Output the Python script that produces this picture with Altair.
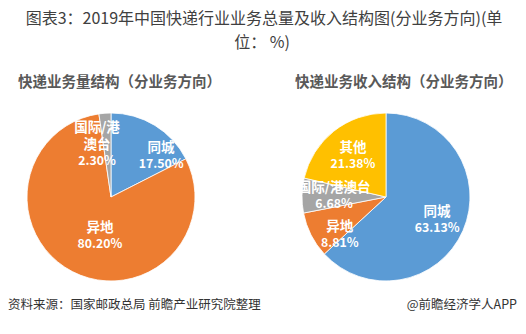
import altair as alt
import pandas as pd

FONT = "Noto Sans CJK SC"

# ---- data ----
title_lines = ["图表3：2019年中国快递行业业务总量及收入结构图(分业务方向)(单", "位：  %)"]
subtitle_volume = "快递业务量结构（分业务方向）"
subtitle_revenue = "快递业务收入结构（分业务方向）"
source_text = "资料来源：国家邮政总局 前瞻产业研究院整理"
brand_text = "@前瞻经济学人APP"

volume_categories = ["同城", "异地", "国际/港澳台"]
volume_labels = ["同城", "异地", "国际/港\n澳台"]
volume_values = [17.50, 80.20, 2.30]

revenue_categories = ["同城", "异地", "国际/港澳台", "其他"]
revenue_labels = ["同城", "异地", "国际/港澳台", "其他"]
revenue_values = [63.13, 8.81, 6.68, 21.38]

color_domain = ["同城", "异地", "国际/港澳台", "其他"]
color_range = ["#5B9BD5", "#ED7D31", "#A5A5A5", "#FFC000"]

rows = []
for i, (c, l, v) in enumerate(zip(volume_categories, volume_labels, volume_values)):
    rows.append({"pie": "volume", "category": c, "label": l, "value": v, "idx": i})
for i, (c, l, v) in enumerate(zip(revenue_categories, revenue_labels, revenue_values)):
    rows.append({"pie": "revenue", "category": c, "label": l, "value": v, "idx": i})
df = pd.DataFrame(rows)

label_lookup = {("volume", c): l for c, l in zip(volume_categories, volume_labels)}
label_lookup.update({("revenue", c): l for c, l in zip(revenue_categories, revenue_labels)})

# ---- layout / style ----
pie_pos = {"volume": (111, 197), "revenue": (386, 197)}
R = 84
LINE_H = 17
# label placement: (radius, thetaOffset in radians) per pie and category
label_style = {
    "volume": {"同城": (65, 0.33), "异地": (41, -0.205), "国际/港澳台": (46, -0.237)},
    "revenue": {"同城": (56, 0.01), "异地": (60, -0.22), "国际/港澳台": (52, 0.01), "其他": (53, 0.0)},
}

theta_scale = alt.Scale(domain=[0, 100])
color_scale = alt.Scale(domain=color_domain, range=color_range)

base = alt.Chart(df).transform_window(
    cum="sum(value)", sort=[alt.SortField("idx")], groupby=["pie"], frame=[None, 0]
).transform_calculate(
    start="datum.cum - datum.value",
    mid="datum.cum - datum.value / 2",
    pct="format(datum.value, '.2f') + '%'",
)

layers = []
for pie, (cx, cy) in pie_pos.items():
    arc = base.transform_filter(alt.datum.pie == pie).mark_arc(
        outerRadius=R, stroke="white", strokeWidth=0.8
    ).encode(
        theta=alt.Theta("start:Q", scale=theta_scale),
        theta2="cum:Q",
        color=alt.Color("category:N", scale=color_scale, legend=None),
        x=alt.value(cx),
        y=alt.value(cy),
    )
    layers.append(arc)
    for cat, (rad, toff) in label_style[pie].items():
        n_lines = label_lookup[(pie, cat)].count("\n") + 1
        sub = base.transform_filter(alt.datum.pie == pie).transform_filter(alt.datum.category == cat)
        name = sub.mark_text(
            radius=rad, thetaOffset=toff, font=FONT, fontSize=13.5, fontWeight="bold",
            color="white", baseline="bottom", lineBreak="\n", lineHeight=LINE_H,
            dy=-1 - (n_lines - 1) * LINE_H,
        ).encode(
            theta=alt.Theta("mid:Q", scale=theta_scale, stack=None),
            text="label:N",
            x=alt.value(cx),
            y=alt.value(cy),
        )
        pct = sub.mark_text(
            radius=rad, thetaOffset=toff, font=FONT, fontSize=12.3, fontWeight="bold",
            color="white", baseline="top", dy=2,
        ).encode(
            theta=alt.Theta("mid:Q", scale=theta_scale, stack=None),
            text="pct:N",
            x=alt.value(cx),
            y=alt.value(cy),
        )
        layers += [name, pct]

one = alt.Data(values=[{"a": 1}])

def txt(text, x, y, size, weight="normal", color="#404040", align="left"):
    return alt.Chart(one).mark_text(
        font=FONT, fontSize=size, fontWeight=weight, color=color, align=align, baseline="middle"
    ).encode(x=alt.value(x), y=alt.value(y), text=alt.value(text))

layers += [
    txt(title_lines[0], 264, 19, 16, align="center"),
    txt(title_lines[1], 262, 43, 16, align="center"),
    txt(subtitle_volume, 18, 83, 14.5, weight="bold", color="#595959"),
    txt(subtitle_revenue, 295, 83, 14.5, weight="bold", color="#595959"),
    txt(source_text, 8, 305, 12.5, color="#333333"),
    txt(brand_text, 517, 305, 12.5, color="#333333", align="right"),
]

chart = alt.layer(*layers).properties(
    width=526, height=334, autosize="none", padding=0
).configure_view(stroke="transparent")

chart.save("out.html", embed_options={"renderer": "svg", "actions": False})
